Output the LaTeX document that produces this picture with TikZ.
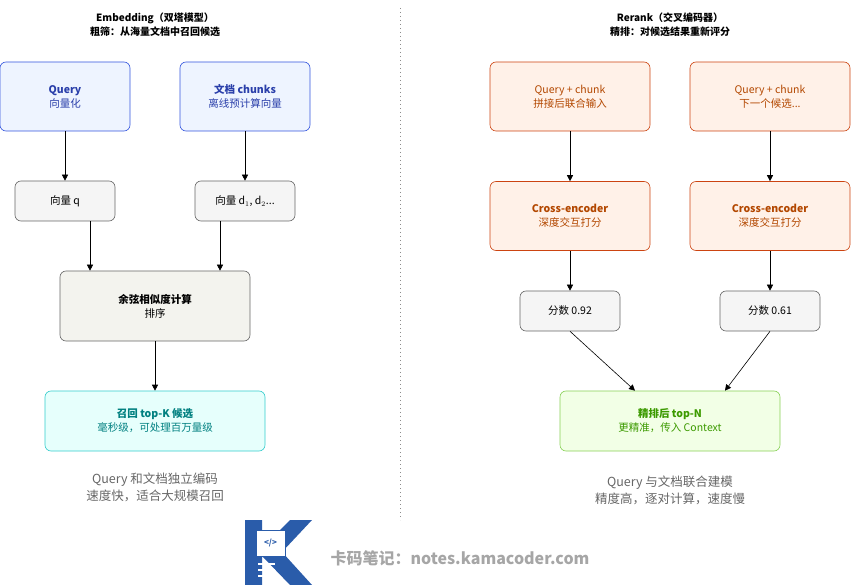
\documentclass[tikz,border=0pt]{standalone}
\usepackage{fontspec}
\setmainfont{Noto Sans CJK SC}
\usetikzlibrary{arrows.meta}
\definecolor{qblue}{HTML}{3355DD}
\definecolor{qfill}{HTML}{EEF4FF}
\definecolor{qtext}{HTML}{2A3FAA}
\definecolor{ored}{HTML}{CC4411}
\definecolor{ofill}{HTML}{FFF1E8}
\definecolor{otext}{HTML}{B34700}
\definecolor{cfill}{HTML}{E6FFFC}
\definecolor{cline}{HTML}{33CCCC}
\definecolor{ctext}{HTML}{008080}
\definecolor{gfill}{HTML}{F2FFE6}
\definecolor{gline}{HTML}{88D055}
\definecolor{gtext}{HTML}{3C9A00}
\definecolor{kblue}{HTML}{2A5CAA}
\definecolor{cosfill}{HTML}{F3F3EE}
\tikzset{
  box/.style={draw,rounded corners=6pt,line width=0.6pt,align=center,font=\fontsize{10.5}{14}\selectfont},
  blue/.style={box,draw=qblue,fill=qfill,text=qtext,minimum width=130pt,minimum height=69pt},
  orange/.style={box,draw=ored,fill=ofill,text=otext,minimum width=160pt,minimum height=69pt},
  vec/.style={box,draw=black!60,fill=black!4,minimum width=100pt,minimum height=40pt},
  arr/.style={-{Triangle[length=6pt,width=6pt]},line width=0.6pt},
  caption/.style={font=\fontsize{12.5}{17}\selectfont,text=black!60,align=center},
  ttl/.style={font=\fontsize{10}{14}\selectfont\bfseries,align=center}
}
\begin{document}
\begin{tikzpicture}[x=1pt,y=-1pt]
\useasboundingbox (0,0) rectangle (851,585);
% left: embedding
\node[ttl] (lt) at (155,25) {Embedding（双塔模型）\\粗筛：从海量文档中召回候选};
\node[blue] (query) at (65,96.5) {\textbf{Query}\\向量化};
\node[blue] (docs) at (245,96.5) {\textbf{文档 chunks}\\离线预计算向量};
\node[vec] (vq) at (65,201) {向量 q};
\node[vec] (vd) at (245,201) {向量 d$_1$, d$_2$...};
\node[box,draw=black!60,fill=cosfill,minimum width=190pt,minimum height=70pt] (cos) at (155,306) {\textbf{余弦相似度计算}\\排序};
\node[box,draw=cline,fill=cfill,text=ctext,minimum width=220pt,minimum height=60pt] (topk) at (155,421) {\textbf{召回 top-K 候选}\\毫秒级，可处理百万量级};
\node[caption] (lcap) at (155,487) {Query 和文档独立编码\\速度快，适合大规模召回};
\draw[arr] (query) -- (vq);
\draw[arr] (docs) -- (vd);
\draw[arr] ([xshift=25pt]vq.south) -- ([xshift=-65pt]cos.north);
\draw[arr] ([xshift=-25pt]vd.south) -- ([xshift=65pt]cos.north);
\draw[arr] (cos) -- (topk);
% divider
\draw[black!45,line width=0.8pt,dash pattern=on 0.8pt off 3.2pt] (400,8) -- (400,520);
% right: rerank
\node[ttl] (rt) at (670,25) {Rerank（交叉编码器）\\精排：对候选结果重新评分};
\node[orange] (qc1) at (570,96.5) {Query + chunk\\拼接后联合输入};
\node[orange] (qc2) at (770,96.5) {Query + chunk\\下一个候选...};
\node[orange] (ce1) at (570,216) {\textbf{Cross-encoder}\\深度交互打分};
\node[orange] (ce2) at (770,216) {\textbf{Cross-encoder}\\深度交互打分};
\node[vec] (s1) at (570,311) {分数 0.92};
\node[vec] (s2) at (770,311) {分数 0.61};
\node[box,draw=gline,fill=gfill,text=gtext,minimum width=220pt,minimum height=60pt] (topn) at (670,421) {\textbf{精排后 top-N}\\更精准，传入 Context};
\node[caption] (rcap) at (670,490) {Query 与文档联合建模\\精度高，逐对计算，速度慢};
\draw[arr] (qc1) -- (ce1);
\draw[arr] (qc2) -- (ce2);
\draw[arr] (ce1) -- (s1);
\draw[arr] (ce2) -- (s2);
\draw[arr] (s1.south) -- ([xshift=-35pt]topn.north);
\draw[arr] (s2.south) -- ([xshift=55pt]topn.north);
% logo
\fill[kblue] (245,520) -- (262,520) -- (262,548) -- (290,520) -- (312,520) -- (282,552) -- (312,585) -- (290,585) -- (262,556) -- (262,585) -- (245,585) -- cycle;
\fill[white,draw=kblue] (256,530) rectangle (285,556);
\node[font=\fontsize{8}{8}\selectfont\bfseries,text=kblue] (code) at (270.5,543) {</>};
\foreach \yy in {563,569,575} \fill[white] (258,\yy) rectangle (275,\yy+2);
\node[font=\fontsize{16}{18}\selectfont\bfseries,text=black!35] (site) at (460,558) {卡码笔记：notes.kamacoder.com};
\end{tikzpicture}
\end{document}
